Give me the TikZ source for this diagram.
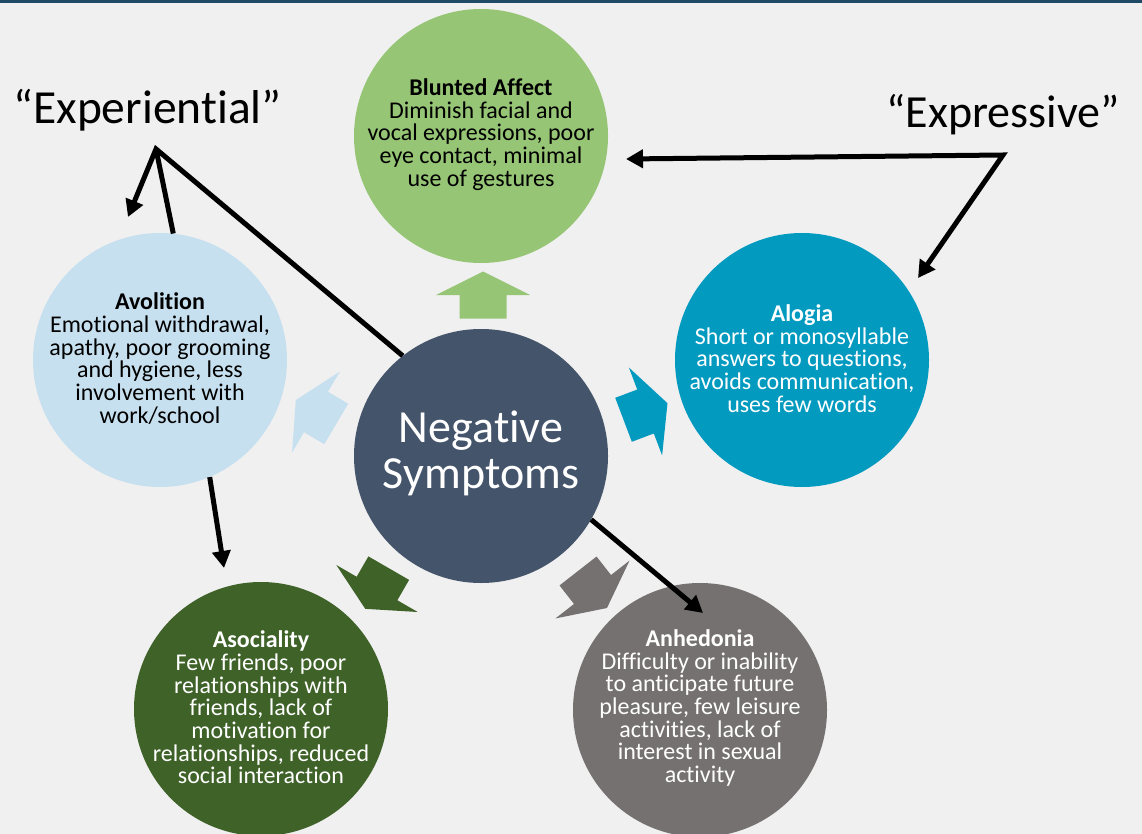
\documentclass[tikz,border=0pt]{standalone}
\usepackage{fontspec}
\setmainfont{Carlito}[Ligatures={NoCommon,NoRare,NoDiscretionary}]
\usetikzlibrary{arrows.meta}
\definecolor{bg}{HTML}{F0F0F0}
\definecolor{band}{HTML}{1E4A66}
\definecolor{affect}{HTML}{96C575}
\definecolor{alogia}{HTML}{039AC0}
\definecolor{avol}{HTML}{C7E0EF}
\definecolor{core}{HTML}{44546A}
\definecolor{asoc}{HTML}{3F6229}
\definecolor{anhed}{HTML}{767171}
\begin{document}
\begin{tikzpicture}[x=1pt,y=-1pt,
  disc/.style={circle,minimum size=254pt,inner sep=0pt,draw=none},
  body/.style={align=center,font=\fontsize{24}{22.7}\selectfont,inner sep=0pt},
  head/.style={inner sep=0pt,anchor=base},
  link/.style={line width=5pt,black,line join=miter},
  tip/.style={-{Triangle[length=17pt,width=18pt]}},
  fatarrow/.pic={\fill[pic actions] (23.5,0) -- (0,47) -- (0,23.5) -- (-23.5,23.5)
     -- (-23.5,-23.5) -- (0,-23.5) -- (0,-47) -- cycle;}
]
% canvas
\clip (0,0) rectangle (1142,834);
\fill[bg] (0,0) rectangle (1142,834);
\fill[band] (0,0) rectangle (1142,3);

% symptom discs
\node[disc,fill=affect] (blunt) at (481,136) {};
\node[disc,fill=alogia] (alog) at (802,360) {};
\node[disc,fill=avol] (avo) at (160,360) {};
\node[disc,fill=core] (ns) at (481,456) {};
\node[disc,fill=asoc] (asoc) at (261,709) {};
\node[disc,fill=anhed] (anh) at (700,710) {};

% disc texts
\node[body] (blunttxt) at ([yshift=1.5pt]blunt.center)
  {\textbf{Blunted Affect}\\Diminish facial and\\vocal expressions, poor\\eye contact, minimal\\use of gestures};
\node[body,text=white] (alogtxt) at ([yshift=1.5pt]alog.center)
  {\textbf{Alogia}\\Short or monosyllable\\answers to questions,\\avoids communication,\\uses few words};
\node[body] (avotxt) at ([yshift=1.5pt]avo.center)
  {\textbf{Avolition}\\Emotional withdrawal,\\apathy, poor grooming\\and hygiene, less\\involvement with\\work/school};
\node[body,text=white] (asoctxt) at ([yshift=1.5pt]asoc.center)
  {\textbf{Asociality}\\Few friends, poor\\relationships with\\friends, lack of\\motivation for\\relationships, reduced\\social interaction};
\node[body,text=white] (anhtxt) at ([yshift=2pt]anh.center)
  {\textbf{Anhedonia}\\Difficulty or inability\\to anticipate future\\pleasure, few leisure\\activities, lack of\\interest in sexual\\activity};
\node[body,text=white,font=\fontsize{46}{46}\selectfont] (nstxt) at ([yshift=3pt]ns.center)
  {Negative\\Symptoms};

% block arrows from the centre
\pic[fill=affect,rotate=90] at (483,295) {fatarrow};
\pic[fill=avol,rotate=149.4] at (316,412) {fatarrow};
\pic[fill=alogia,rotate=20.7] at (645.5,411.5) {fatarrow};
\pic[fill=asoc,rotate=240] at (377,588.5) {fatarrow};
\pic[fill=anhed,rotate=-52] at (592.5,589.5) {fatarrow};

% group labels
\node[head,font=\fontsize{47.5}{47.5}\selectfont] (exper) at (147.5,124) {“Experiential”};
\node[head,font=\fontsize{46}{46}\selectfont] (expr) at (1003,128) {“Expressive”};

% connector points
\coordinate (expA) at (156,149);
\coordinate (expTip) at (128,217);
\coordinate (exprA) at (1003,155);
\coordinate (exprTipL) at (626,159);
\coordinate (exprTipR) at (918,278);
\coordinate (asocTip) at (224,568);
\coordinate (anhTip) at (703,613);

% connectors
\draw[link,tip] (ns.128) -- (expA) -- (expTip);
\draw[link] (expA) -- (avo.84);
\draw[link,{Triangle[length=17pt,width=18pt]}-{Triangle[length=17pt,width=18pt]}]
  (exprTipL) -- (exprA) -- (exprTipR);
\draw[link,tip] (avo.-67) -- (asocTip);
\draw[link,tip] (ns.-30) -- (anhTip);
\end{tikzpicture}
\end{document}
